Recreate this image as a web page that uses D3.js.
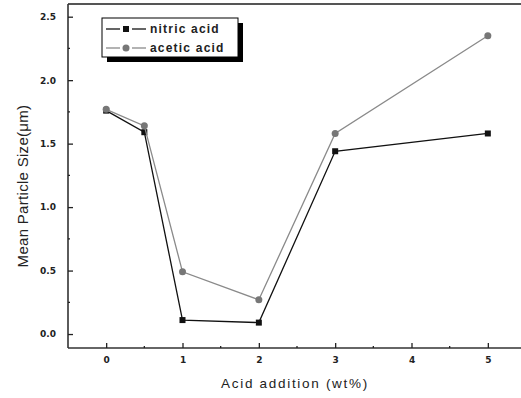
<!DOCTYPE html>
<html>
<head>
<meta charset="utf-8">
<script src="https://cdn.jsdelivr.net/npm/d3@7"></script>
<style>
  body { margin: 0; background: #fff; overflow: hidden; }
  svg { display: block; }
</style>
</head>
<body>
<div id="chart"></div>
<script>
// data
const acidAddition = [0, 0.5, 1, 2, 3, 5]
const nitricAcid = [1.76, 1.59, 0.11, 0.09, 1.44, 1.58]
const aceticAcid = [1.77, 1.64, 0.49, 0.27, 1.58, 2.35]
const xTicks = [0, 1, 2, 3, 4, 5]
const yTicks = [0.0, 0.5, 1.0, 1.5, 2.0, 2.5]
const seriesNames = ["nitric acid", "acetic acid"]

const width = 521
const height = 398
const margin = {left: 68, top: 4, right: -5, bottom: 50}

const svg = d3.select("#chart")
    .append("svg")
    .attr("width", width)
    .attr("height", height)

const x = d3.scaleLinear()
    .domain([-0.5, 5.5])
    .range([margin.left, width - margin.right])

const y = d3.scaleLinear()
    .domain([-0.11, 2.6])
    .range([height - margin.bottom, margin.top])

// frame: top, left and bottom (right side runs off the picture)
const frame = svg.append("g")
    .attr("stroke", "#333")
    .attr("stroke-width", 1.6)
frame.append("line")
    .attr("x1", x(-0.5)).attr("x2", width + 10)
    .attr("y1", y(2.6)).attr("y2", y(2.6))
    .attr("stroke", "#555").attr("stroke-width", 2)
frame.append("line")
    .attr("x1", x(-0.5)).attr("x2", x(-0.5))
    .attr("y1", y(2.6)).attr("y2", y(-0.11))
frame.append("line")
    .attr("x1", x(-0.5)).attr("x2", width + 10)
    .attr("y1", y(-0.11)).attr("y2", y(-0.11))

// x axis, ticks point inward
const xAxis = d3.axisBottom(x)
    .tickValues(xTicks)
    .tickSize(-5)
    .tickFormat(d3.format("d"))

const gx = svg.append("g")
    .attr("transform", `translate(0,${y(-0.11)})`)
    .call(xAxis)
gx.select(".domain").remove()
gx.selectAll(".tick line").attr("stroke", "#222").attr("stroke-width", 1.3)
gx.selectAll(".tick text")
    .attr("y", 9)
    .attr("font-family", "DejaVu Sans, sans-serif")
    .attr("font-weight", "bold")
    .attr("font-size", 9)
    .attr("fill", "#222")

// minor x ticks
svg.append("g").selectAll("line")
    .data(xTicks.slice(0, -1).map(d => d + 0.5))
    .join("line")
    .attr("x1", d => x(d)).attr("x2", d => x(d))
    .attr("y1", y(-0.11)).attr("y2", y(-0.11) - 2)
    .attr("stroke", "#222")
    .attr("stroke-width", 1.3)

// y axis
const yAxis = d3.axisLeft(y)
    .tickValues(yTicks)
    .tickSize(-5)
    .tickFormat(d3.format(".1f"))

const gy = svg.append("g")
    .attr("transform", `translate(${x(-0.5)},0)`)
    .call(yAxis)
gy.select(".domain").remove()
gy.selectAll(".tick line").attr("stroke", "#222").attr("stroke-width", 1.3)
gy.selectAll(".tick text")
    .attr("x", -12)
    .attr("font-family", "DejaVu Sans, sans-serif")
    .attr("font-weight", "bold")
    .attr("font-size", 9)
    .attr("fill", "#222")

// minor y ticks
svg.append("g").selectAll("line")
    .data(yTicks.slice(0, -1).map(d => d + 0.25))
    .join("line")
    .attr("x1", x(-0.5)).attr("x2", x(-0.5) + 2)
    .attr("y1", d => y(d)).attr("y2", d => y(d))
    .attr("stroke", "#222")
    .attr("stroke-width", 1.3)

// lines
const series = [
    {name: seriesNames[0], values: nitricAcid, color: "#111", markColor: "#111", marker: "square"},
    {name: seriesNames[1], values: aceticAcid, color: "#8a8a8a", markColor: "#777", marker: "circle"}
]

const line = d3.line()
    .x((d, i) => x(acidAddition[i]))
    .y(d => y(d))

series.forEach(s => {
    svg.append("path")
        .datum(s.values)
        .attr("d", line)
        .attr("fill", "none")
        .attr("stroke", s.color)
        .attr("stroke-width", 1.3)

    if (s.marker == "square") {
        svg.append("g").selectAll("rect")
            .data(s.values)
            .join("rect")
            .attr("x", (d, i) => x(acidAddition[i]) - 3)
            .attr("y", d => y(d) - 3)
            .attr("width", 6)
            .attr("height", 6)
            .attr("fill", s.markColor)
    } else {
        svg.append("g").selectAll("circle")
            .data(s.values)
            .join("circle")
            .attr("cx", (d, i) => x(acidAddition[i]))
            .attr("cy", d => y(d))
            .attr("r", 3.5)
            .attr("fill", s.markColor)
    }
})

// legend with drop shadow
const legend = svg.append("g").attr("transform", "translate(102,18)")
legend.append("rect")
    .attr("x", 5).attr("y", 5)
    .attr("width", 136).attr("height", 39)
    .attr("fill", "#000")
legend.append("rect")
    .attr("width", 136).attr("height", 39)
    .attr("fill", "#fff")
    .attr("stroke", "#000")
    .attr("stroke-width", 1)

series.forEach((s, i) => {
    const ly = 11 + i * 19
    // line - marker - line, with small gaps
    legend.append("line")
        .attr("x1", 4).attr("x2", 18)
        .attr("y1", ly).attr("y2", ly)
        .attr("stroke", s.color)
        .attr("stroke-width", 1.3)
    legend.append("line")
        .attr("x1", 30).attr("x2", 44)
        .attr("y1", ly).attr("y2", ly)
        .attr("stroke", s.color)
        .attr("stroke-width", 1.3)
    if (s.marker == "square") {
        legend.append("rect")
            .attr("x", 21).attr("y", ly - 3)
            .attr("width", 6).attr("height", 6)
            .attr("fill", s.markColor)
    } else {
        legend.append("circle")
            .attr("cx", 24).attr("cy", ly)
            .attr("r", 3.5)
            .attr("fill", s.markColor)
    }
    legend.append("text")
        .attr("x", 48)
        .attr("y", ly + 4)
        .attr("font-family", "Liberation Sans, Arial, sans-serif")
        .attr("font-weight", "bold")
        .attr("font-size", 12)
        .attr("letter-spacing", 1.2)
        .attr("fill", "#222")
        .text(s.name)
})

// axis titles
svg.append("text")
    .attr("x", 295)
    .attr("y", 388)
    .attr("text-anchor", "middle")
    .attr("font-family", "Liberation Sans, Arial, sans-serif")
    .attr("font-size", 13.5)
    .attr("letter-spacing", 1.7)
    .attr("fill", "#222")
    .text("Acid addition (wt%)")

svg.append("text")
    .attr("transform", "translate(28,186) rotate(-90)")
    .attr("text-anchor", "middle")
    .attr("font-family", "Liberation Sans, Arial, sans-serif")
    .attr("font-size", 15)
    .attr("letter-spacing", 0.3)
    .attr("fill", "#222")
    .text("Mean Particle Size(μm)")
</script>
</body>
</html>
